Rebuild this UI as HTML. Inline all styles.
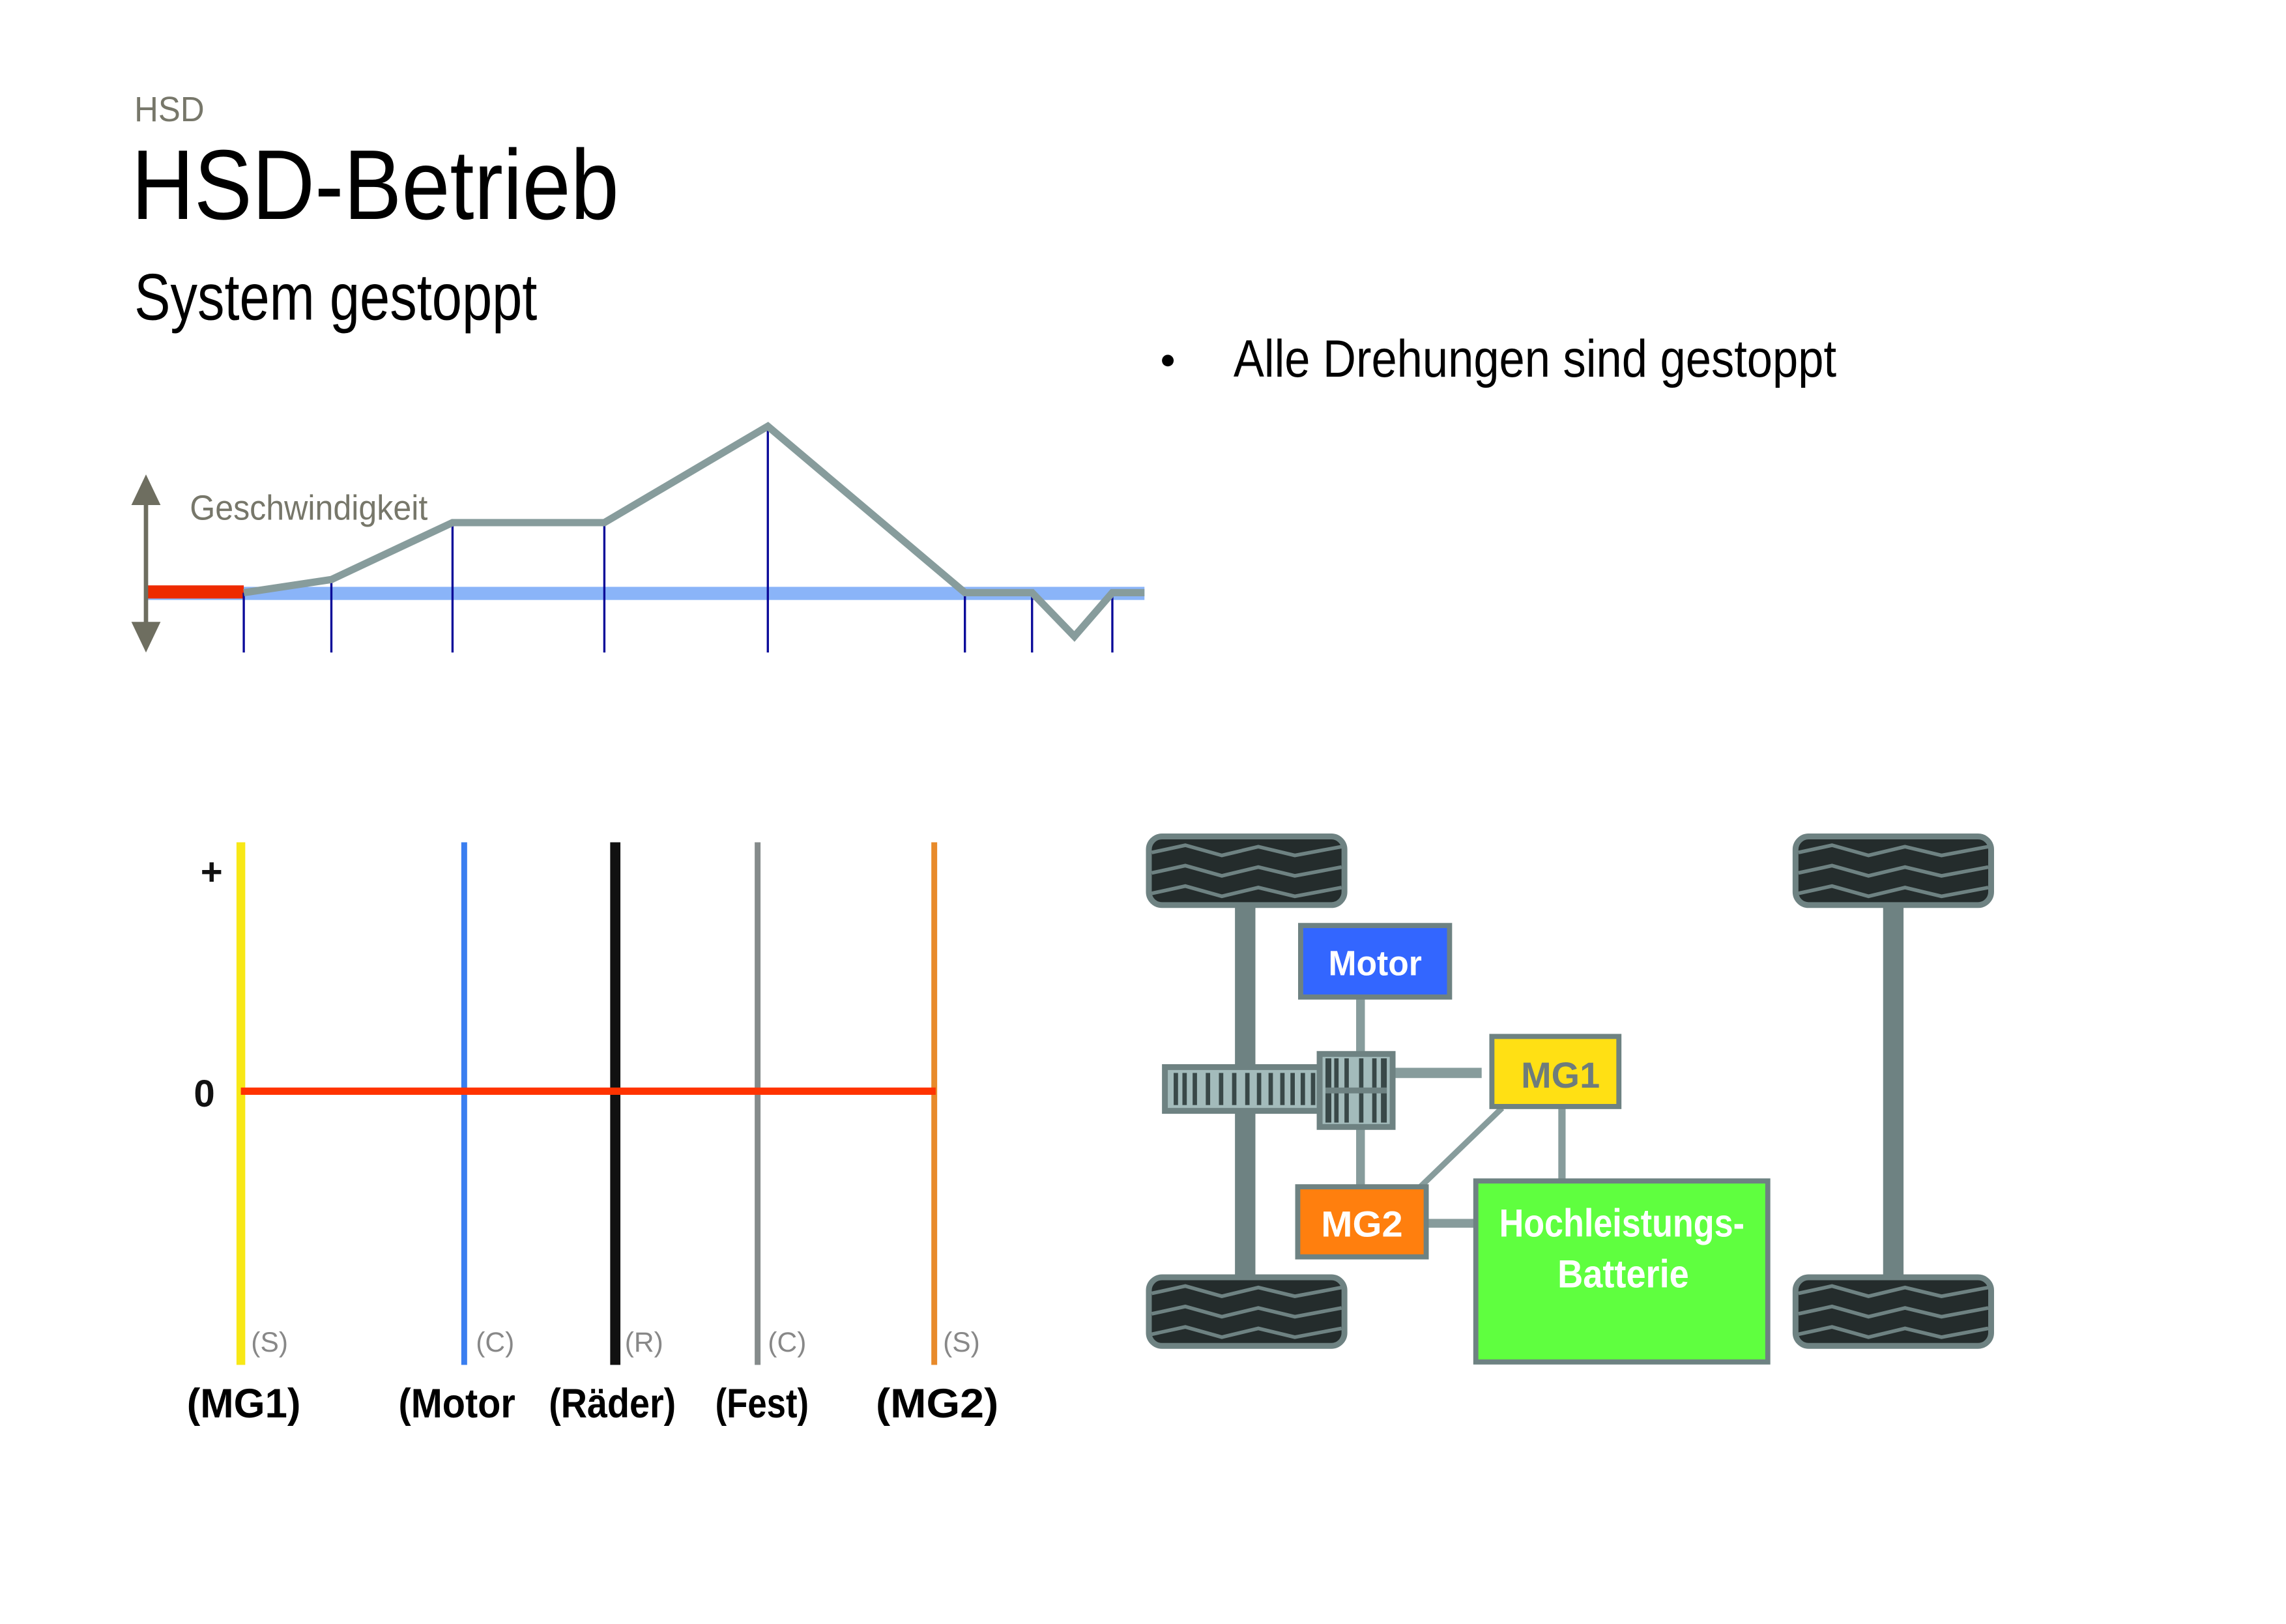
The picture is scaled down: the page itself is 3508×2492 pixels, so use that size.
<!DOCTYPE html>
<html><head><meta charset="utf-8"><style>
html,body{margin:0;padding:0;background:#fff;width:3508px;height:2492px;overflow:hidden}
svg{display:block}
text{font-family:"Liberation Sans",sans-serif}
</style></head><body>
<svg width="3508" height="2492" viewBox="0 0 1566 1112.5" preserveAspectRatio="none" xmlns="http://www.w3.org/2000/svg">
<rect width="1566" height="1112.5" fill="#fff"/>
<!-- titles -->
<text x="92" y="83" font-size="24" fill="#77776a" textLength="48" lengthAdjust="spacingAndGlyphs">HSD</text>
<text x="90" y="150" font-size="68" fill="#000" textLength="334" lengthAdjust="spacingAndGlyphs">HSD-Betrieb</text>
<text x="92" y="219" font-size="45" fill="#000" textLength="276" lengthAdjust="spacingAndGlyphs">System gestoppt</text>
<circle cx="800" cy="247" r="4" fill="#000"/>
<text x="845" y="258" font-size="36" fill="#000" textLength="413" lengthAdjust="spacingAndGlyphs">Alle Drehungen sind gestoppt</text>

<!-- speed graph -->
<rect x="100" y="402" width="684" height="9" fill="#8ab4f8"/>
<rect x="100" y="401" width="67" height="9" fill="#ee2a00"/>
<g stroke="#0a0a99" stroke-width="1.5">
<line x1="167" y1="406" x2="167" y2="447"/><line x1="227" y1="397" x2="227" y2="447"/>
<line x1="310" y1="358" x2="310" y2="447"/><line x1="414" y1="358" x2="414" y2="447"/>
<line x1="526" y1="292" x2="526" y2="447"/><line x1="661" y1="406" x2="661" y2="447"/>
<line x1="707" y1="406" x2="707" y2="447"/><line x1="762" y1="406" x2="762" y2="447"/>
</g>
<polyline points="167,406 227,397 310,358 414,358 526,292 661,406 707,406 736,436 762,406 784,406" fill="none" stroke="#879c9c" stroke-width="5" stroke-linejoin="miter"/>
<line x1="100" y1="340" x2="100" y2="432" stroke="#6e6e60" stroke-width="3"/>
<polygon points="100,325 90,346 110,346" fill="#6e6e60"/>
<polygon points="100,447 90,426 110,426" fill="#6e6e60"/>
<text x="130" y="356" font-size="24" fill="#77776a" textLength="163" lengthAdjust="spacingAndGlyphs">Geschwindigkeit</text>

<!-- lever diagram -->
<rect x="162" y="577" width="6" height="358" fill="#f8e816"/>
<rect x="316" y="577" width="4" height="358" fill="#3a7ef0"/>
<rect x="418" y="577" width="7" height="358" fill="#111"/>
<rect x="517" y="577" width="4" height="358" fill="#858b8b"/>
<rect x="638" y="577" width="4" height="358" fill="#e88a2a"/>
<rect x="165" y="745" width="476" height="5" fill="#ff3300"/>
<text x="145" y="606" font-size="26" font-weight="bold" fill="#111" text-anchor="middle">+</text>
<text x="140" y="758" font-size="26" font-weight="bold" fill="#111" text-anchor="middle">0</text>
<g font-size="19" fill="#888">
<text x="172" y="926">(S)</text><text x="326" y="926">(C)</text><text x="428" y="926">(R)</text><text x="526" y="926">(C)</text><text x="646" y="926">(S)</text>
</g>
<g font-size="28" font-weight="bold" fill="#000">
<text x="128" y="971" textLength="78" lengthAdjust="spacingAndGlyphs">(MG1)</text>
<text x="273" y="971" textLength="80" lengthAdjust="spacingAndGlyphs">(Motor</text>
<text x="376" y="971" textLength="87" lengthAdjust="spacingAndGlyphs">(Räder)</text>
<text x="490" y="971" textLength="64" lengthAdjust="spacingAndGlyphs">(Fest)</text>
<text x="600" y="971" textLength="84" lengthAdjust="spacingAndGlyphs">(MG2)</text>
</g>

<!-- car -->
<defs>
<g id="tire">
<rect x="0" y="0" width="134" height="47" rx="9" fill="#242c2c" stroke="#6e8282" stroke-width="4"/>
<g fill="none" stroke="#6e8282" stroke-width="2.5">
<polyline points="2,11 25,6 50,13 75,7 100,13 132,7"/>
<polyline points="2,25 25,20 50,27 75,21 100,27 132,21"/>
<polyline points="2,39 25,34 50,41 75,35 100,41 132,35"/>
</g>
</g>
</defs>
<rect x="846" y="619" width="14" height="256" fill="#6e8282"/>
<rect x="1290" y="619" width="14" height="256" fill="#6e8282"/>
<use href="#tire" x="787" y="573"/>
<use href="#tire" x="787" y="875"/>
<use href="#tire" x="1230" y="573"/>
<use href="#tire" x="1230" y="875"/>
<!-- connectors -->
<g stroke="#879c9c">
<line x1="932" y1="683" x2="932" y2="812" stroke-width="6"/>
<line x1="955" y1="735" x2="1015" y2="735" stroke-width="7"/>
<line x1="1070" y1="759" x2="1070" y2="808" stroke-width="5"/>
<line x1="1029" y1="759" x2="973" y2="813" stroke-width="4"/>
<line x1="978" y1="838" x2="1010" y2="838" stroke-width="6"/>
</g>
<!-- gear rack -->
<rect x="798" y="731" width="110" height="30" fill="#a3bbbb" stroke="#6e8282" stroke-width="4"/>
<g fill="#394848">
<rect x="804" y="735" width="3" height="22"/><rect x="810" y="735" width="3" height="22"/><rect x="817" y="735" width="3" height="22"/>
<rect x="826" y="735" width="3" height="22"/><rect x="835" y="735" width="3" height="22"/><rect x="844" y="735" width="3" height="22"/>
<rect x="853" y="735" width="3" height="22"/><rect x="861" y="735" width="3" height="22"/><rect x="869" y="735" width="3" height="22"/>
<rect x="877" y="735" width="3" height="22"/><rect x="884" y="735" width="3" height="22"/><rect x="891" y="735" width="3" height="22"/><rect x="898" y="735" width="3" height="22"/>
</g>
<rect x="904" y="722" width="50" height="50" fill="#a3bbbb" stroke="#6e8282" stroke-width="4"/>
<g fill="#394848">
<rect x="908" y="725" width="4" height="44"/><rect x="914" y="725" width="3" height="44"/><rect x="921" y="725" width="3" height="44"/>
<rect x="931" y="725" width="3" height="44"/><rect x="940" y="725" width="3" height="44"/><rect x="946" y="725" width="4" height="44"/>
</g>
<rect x="908" y="745" width="42" height="4" fill="#6e8282"/>
<!-- boxes -->
<rect x="891" y="634" width="102" height="49" fill="#3366ff" stroke="#6e8282" stroke-width="3.5"/>
<text x="942" y="668" font-size="24" font-weight="bold" fill="#fff" text-anchor="middle" textLength="64" lengthAdjust="spacingAndGlyphs">Motor</text>
<rect x="1022" y="710" width="87" height="48" fill="#ffe014" stroke="#6e8282" stroke-width="3.5"/>
<text x="1069" y="745" font-size="25" font-weight="bold" fill="#6e7c7c" text-anchor="middle" textLength="54" lengthAdjust="spacingAndGlyphs">MG1</text>
<rect x="889" y="813" width="88" height="48" fill="#ff7f0e" stroke="#6e8282" stroke-width="3.5"/>
<text x="933" y="847" font-size="25" font-weight="bold" fill="#fff" text-anchor="middle" textLength="56" lengthAdjust="spacingAndGlyphs">MG2</text>
<rect x="1011" y="809" width="200" height="124" fill="#5fff3f" stroke="#6e8282" stroke-width="3.5"/>
<text x="1111" y="847" font-size="27" font-weight="bold" fill="#fff" text-anchor="middle" textLength="168" lengthAdjust="spacingAndGlyphs">Hochleistungs-</text>
<text x="1112" y="882" font-size="27" font-weight="bold" fill="#fff" text-anchor="middle" textLength="90" lengthAdjust="spacingAndGlyphs">Batterie</text>
</svg>
</body></html>
